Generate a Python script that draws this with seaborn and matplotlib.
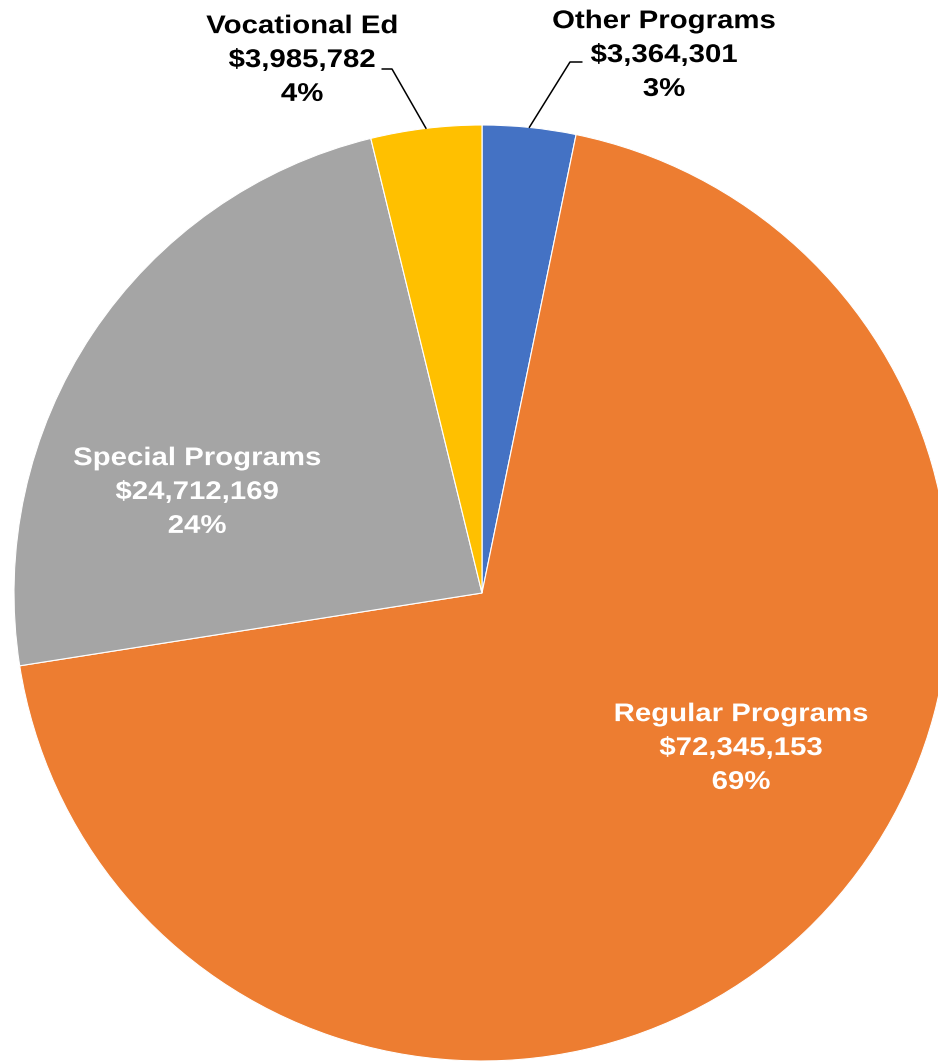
import numpy as np
import matplotlib.pyplot as plt
import matplotlib.patheffects as pe
from matplotlib.transforms import Affine2D
import seaborn as sns

# data
programs = ['Other Programs', 'Regular Programs', 'Special Programs', 'Vocational Ed']
amounts = [3364301, 72345153, 24712169, 3985782]
colors = ['#4472C4', '#ED7D31', '#A5A5A5', '#FFC000']

sns.set_theme(style='white')
plt.rcParams['font.family'] = ['Liberation Sans', 'DejaVu Sans']

W, H = 938, 1061
CX, CY, R = 482, 593, 468   # pie centre / radius in pixels


def px(x, y):
    # pixel position -> data coords (pie radius = 1)
    return (x - CX) / R, (CY - y) / R


class StretchX(pe.AbstractPathEffect):
    # the reference text is set wider than plain Arial, stretch each line about its centre
    def __init__(self, sx):
        super().__init__()
        self.sx = sx

    def draw_path(self, renderer, gc, tpath, affine, rgbFace=None):
        ext = tpath.get_extents()
        c = (ext.x0 + ext.x1) / 2
        t = Affine2D().translate(-c, 0).scale(self.sx, 1).translate(c, 0) + affine
        renderer.draw_path(gc, tpath, t, rgbFace)


fig = plt.figure(figsize=(W / 100, H / 100), dpi=100)
ax = fig.add_axes([0, 0, 1, 1])

wedges, _ = ax.pie(amounts, colors=colors, startangle=90, counterclock=False,
                   radius=1, wedgeprops=dict(edgecolor='white', linewidth=0.8))
ax.set_xlim(-CX / R, (W - CX) / R)
ax.set_ylim(-(H - CY) / R, CY / R)
ax.axis('off')

total = sum(amounts)
labels = [f"{p}\n${a:,.0f}\n{a / total:.0%}" for p, a in zip(programs, amounts)]

# label placement: (pixel x, pixel y, text colour, elbow start, elbow end)
spots = {
    'Other Programs': (664, 55, 'black', (582, 62), (570, 62)),
    'Regular Programs': (741, 748, 'white', None, None),
    'Special Programs': (197, 492, 'white', None, None),
    'Vocational Ed': (302, 60, 'black', (382, 69), (392, 69)),
}

for w, prog, lab in zip(wedges, programs, labels):
    x, y, col, e0, e1 = spots[prog]
    tx, ty = px(x, y)
    ax.text(tx, ty, lab, ha='center', va='center', color=col, fontsize=18.4,
            fontweight='bold', linespacing=1.52, path_effects=[StretchX(1.15)])
    if e0 is not None:
        mid = np.deg2rad((w.theta1 + w.theta2) / 2)
        edge = (np.cos(mid), np.sin(mid))
        a, b = px(*e0), px(*e1)
        ax.plot([a[0], b[0], edge[0]], [a[1], b[1], edge[1]], color='black', lw=1.1)

fig.savefig('out.png', dpi=100)
